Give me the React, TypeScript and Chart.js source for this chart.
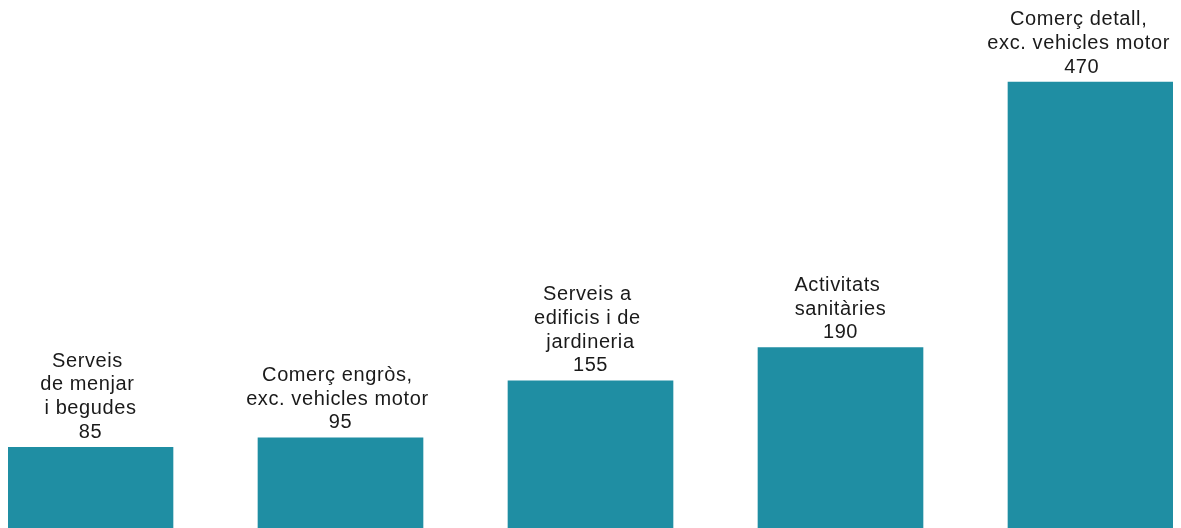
import React, { useEffect, useRef } from "react";
import { Chart, registerables } from "chart.js";

Chart.register(...registerables);

const categories: string[][] = [
  ["Serveis ", "de menjar ", "i begudes"],
  ["Comerç engròs, ", "exc. vehicles motor "],
  ["Serveis a ", "edificis i de ", "jardineria"],
  ["Activitats ", "sanitàries"],
  ["Comerç detall, ", "exc. vehicles motor "],
];
const values: number[] = [85, 95, 155, 190, 470];

const BAR_COLOR = "#1f8ea3";
const TEXT_COLOR = "#1a1a1a";

const labelPlugin = {
  id: "barLabels",
  afterDatasetsDraw(chart: any) {
    const ctx = chart.ctx;
    const meta = chart.getDatasetMeta(0);
    ctx.save();
    ctx.fillStyle = TEXT_COLOR;
    ctx.font = '20px "Liberation Sans", Arial, sans-serif';
    try {
      (ctx as any).letterSpacing = "0.6px";
    } catch (e) {}
    ctx.textAlign = "center";
    ctx.textBaseline = "alphabetic";
    const lh = 23.7;
    meta.data.forEach((bar: any, i: number) => {
      const lines = [...categories[i], String(values[i])];
      let maxW = 0;
      lines.forEach((ln) => {
        maxW = Math.max(maxW, ctx.measureText(ln.trimEnd()).width);
      });
      let cx = bar.x;
      if (cx + maxW / 2 > chart.width) cx = chart.width - maxW / 2;
      if (cx - maxW / 2 < 0) cx = maxW / 2;
      const baseY = bar.y - 9.5;
      lines.forEach((ln, j) => {
        ctx.fillText(ln, cx, baseY - (lines.length - 1 - j) * lh);
      });
    });
    ctx.restore();
  },
};

export default function App() {
  const ref = useRef<HTMLCanvasElement | null>(null);
  useEffect(() => {
    if (!ref.current) return;
    const chart = new Chart(ref.current, {
      type: "bar",
      data: {
        labels: categories.map((c) => c.join("").trim()),
        datasets: [
          {
            data: values,
            backgroundColor: BAR_COLOR,
            borderWidth: 0,
            barThickness: 165,
            clip: false as any,
          },
        ],
      },
      options: {
        animation: false,
        responsive: true,
        maintainAspectRatio: false,
        layout: { padding: { left: 82.5, right: 82.5, top: 74, bottom: 0 } },
        plugins: { legend: { display: false }, tooltip: { enabled: false } },
        scales: {
          x: { display: false, offset: false },
          y: { display: false, min: 0, max: 470 },
        },
      },
      plugins: [labelPlugin],
    });
    return () => chart.destroy();
  }, []);
  return (
    <div style={{ width: 1165, height: 520 }}>
      <canvas ref={ref} />
    </div>
  );
}
